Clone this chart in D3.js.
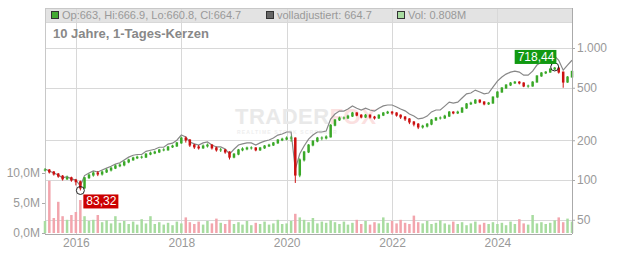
<!DOCTYPE html>
<html>
<head>
<meta charset="utf-8">
<script src="https://cdn.jsdelivr.net/npm/d3@7"></script>
<style>
  body { margin: 0; background: #fff; }
  svg text { font-family: "Liberation Sans", Arial, sans-serif; }
</style>
</head>
<body>
<svg width="632" height="253"></svg>
<script>
// monthly candles from Jun 2015 to Jun 2025, open = previous close
const closes = [
  119, 115, 111, 107, 102, 104, 100,
  97, 87, 104, 109, 113, 111, 115, 119, 123, 128, 130, 137,
  142, 147, 149, 149, 157, 160, 163, 169, 169, 178, 181, 191,
  208, 201, 184, 178, 175, 181, 184, 175, 169, 169, 163, 149,
  157, 169, 172, 175, 175, 169, 175, 181, 184, 191, 201, 204,
  208, 208, 109, 142, 163, 184, 197, 208, 208, 212, 260, 285,
  295, 295, 305, 322, 310, 300, 310, 300, 295, 310, 322, 327,
  322, 310, 300, 290, 275, 265, 252, 256, 265, 285, 295, 295,
  305, 327, 322, 327, 351, 377, 383, 403, 390, 377, 383, 425,
  464, 498, 524, 543, 552, 543, 515, 515, 552, 614, 647, 657,
  693, 705, 657, 552, 603, 665
];
const highs = [
  123, 121, 117, 113, 109, 108, 106,
  102, 99, 105, 112, 116, 117, 118, 122, 126, 131, 134, 140,
  145, 150, 153, 153, 160, 164, 167, 172, 174, 181, 185, 194,
  213, 214, 204, 188, 184, 186, 189, 187, 179, 175, 172, 165,
  160, 172, 177, 179, 180, 177, 178, 184, 188, 194, 204, 209,
  214, 216, 210, 146, 166, 187, 200, 212, 214, 218, 265, 290,
  302, 303, 312, 328, 326, 315, 316, 314, 306, 314, 327, 334,
  333, 326, 314, 305, 294, 280, 270, 262, 270, 290, 300, 303,
  312, 333, 332, 335, 356, 383, 392, 410, 408, 395, 390, 430,
  470, 505, 532, 552, 562, 560, 550, 528, 560, 622, 656, 668,
  702, 718.44, 712, 662, 612, 672
];
const lows = [
  116, 112, 108, 104, 99, 100, 97,
  91, 83.32, 86, 102, 106, 107, 108, 113, 116, 121, 125, 127,
  134, 140, 144, 145, 147, 154, 157, 160, 165, 167, 175, 178,
  188, 192, 178, 172, 170, 172, 176, 170, 164, 163, 158, 143,
  146, 154, 165, 168, 170, 165, 166, 172, 178, 181, 188, 197,
  200, 195, 95, 105, 138, 160, 180, 193, 200, 203, 210, 255,
  280, 287, 290, 300, 304, 293, 295, 292, 287, 290, 305, 316,
  312, 302, 290, 280, 265, 255, 243, 245, 250, 260, 280, 287,
  290, 300, 315, 316, 322, 346, 370, 378, 382, 368, 370, 378,
  420, 458, 490, 515, 535, 530, 505, 500, 510, 548, 605, 635,
  650, 680, 640, 500, 545, 598
];
// volladjustiert line
const adjusted = [
  121, 117, 113, 109, 104, 106, 102,
  100, 90, 108, 113, 117, 115, 119, 123, 127, 132, 135, 142,
  149, 154, 156, 156, 165, 168, 171, 177, 177, 187, 190, 200,
  219, 212, 194, 188, 184, 191, 194, 184, 178, 178, 172, 157,
  171, 184, 188, 191, 191, 184, 191, 197, 201, 208, 219, 223,
  231, 231, 121, 158, 181, 204, 219, 231, 231, 235, 289, 316,
  333, 333, 345, 364, 350, 339, 350, 339, 333, 350, 364, 370,
  370, 357, 345, 334, 316, 305, 290, 294, 305, 328, 339, 339,
  363, 389, 383, 389, 418, 449, 456, 480, 464, 449, 456, 506,
  561, 603, 634, 657, 668, 657, 623, 623, 668, 743, 783, 795,
  852, 867, 808, 679, 742, 808
];
// volume in millions
const volumes = [
  2.0, 8.7, 2.5, 5.2, 2.8, 2.2, 3.0,
  3.5, 5.5, 2.8, 2.0, 2.2, 3.0, 1.8, 2.1, 1.6, 2.8, 1.7, 2.0,
  1.5, 1.9, 1.4, 2.3, 1.6, 2.8, 1.5, 1.8, 1.4, 1.7, 1.3, 1.9,
  1.6, 2.6, 1.8, 1.5, 1.9, 1.4, 2.0, 1.6, 2.4, 1.7, 1.5, 2.2,
  1.5, 1.8, 1.4, 2.0, 1.3, 1.7, 1.5, 1.9, 1.4, 1.6, 2.2, 1.5,
  1.6, 2.0, 3.2, 2.6, 2.2, 1.8, 2.5, 1.6, 1.9, 1.7, 2.1, 1.8,
  1.5, 1.9, 1.4, 1.7, 2.2, 1.5, 2.0, 1.4, 1.8, 1.6, 2.6, 1.7,
  2.0, 1.6, 2.2, 1.7, 1.5, 2.9, 1.8, 1.6, 2.0, 1.5, 1.7, 2.1,
  1.6, 1.4, 1.9, 1.5, 1.8, 1.3, 1.6, 1.9, 1.4, 1.7, 1.5, 1.8,
  1.5, 1.7, 1.3, 1.9, 1.5, 2.3, 1.6, 1.4, 3.0, 1.6, 1.8, 1.5,
  1.7, 2.1, 2.6, 1.8, 2.4, 1.9
];
const priceTicks = [50, 100, 200, 500, 1000];
const volTicks = [0, 5, 10];
const yearTicks = [2016, 2018, 2020, 2022, 2024];
const lowMark = { date: new Date(2016, 1, 1), value: 83.32, label: "83,32" };
const highMark = { date: new Date(2025, 1, 1), value: 718.44, label: "718,44" };
const headerItems = [
  { text: "Op:663, Hi:666.9, Lo:660.8, Cl:664.7", color: "#44aa33", x: 51 },
  { text: "volladjustiert: 664.7", color: "#666", x: 266 },
  { text: "Vol: 0.808M", color: "#a8dca0", x: 397 }
];

const dates = closes.map((d, i) => new Date(2015, 5 + i, 1));
const opens = closes.map((d, i) => i ? closes[i - 1] : d);

const L = 45, R = 572, T = 8, B = 234;
const svg = d3.select("svg");

const x = d3.scaleTime().domain([new Date(2015, 5, 1), new Date(2025, 5, 1)]).range([L, R]);
const y = d3.scaleLog().domain([100, 1000]).range([180, 48]);
const yv = d3.scaleLinear().domain([0, 10]).range([233, 173]);

// header band
svg.append("rect").attr("x", L).attr("y", T).attr("width", R - L).attr("height", 14).attr("fill", "#e3e3e3");

// grid
svg.append("g").selectAll("line").data(yearTicks).join("line")
  .attr("x1", d => Math.round(x(new Date(d, 0, 1))) + 0.5)
  .attr("x2", d => Math.round(x(new Date(d, 0, 1))) + 0.5)
  .attr("y1", T).attr("y2", B).attr("stroke", "#d8d8d8");
svg.append("g").selectAll("line").data(priceTicks).join("line")
  .attr("x1", L).attr("x2", R)
  .attr("y1", d => Math.round(y(d)) + 0.5).attr("y2", d => Math.round(y(d)) + 0.5)
  .attr("stroke", "#d8d8d8");
svg.append("line").attr("x1", L).attr("x2", R).attr("y1", 22.5).attr("y2", 22.5).attr("stroke", "#d8d8d8");

// frame
svg.append("line").attr("x1", L + 0.5).attr("x2", L + 0.5).attr("y1", T).attr("y2", B).attr("stroke", "#c8c8c8");
svg.append("line").attr("x1", L).attr("x2", R).attr("y1", T + 0.5).attr("y2", T + 0.5).attr("stroke", "#c8c8c8");

// watermark
const wm = svg.append("text").attr("x", 235).attr("y", 124)
  .attr("font-size", 22).attr("font-weight", "bold").attr("letter-spacing", 0.5);
wm.append("tspan").attr("fill", "#e9e9e9").text("TRADER");
wm.append("tspan").attr("fill", "#fbe0e0").text("FOX");
svg.append("text").attr("x", 237).attr("y", 134)
  .attr("font-size", 5).attr("font-weight", "bold").attr("fill", "#eeeeee").attr("letter-spacing", 1.2)
  .text("REALTIME STOCK SCREENER");

// volume bars
svg.append("g").selectAll("rect").data(volumes).join("rect")
  .attr("x", (d, i) => x(dates[i]) - 1.25)
  .attr("width", 2.5)
  .attr("y", d => yv(d))
  .attr("height", d => yv(0) - yv(d))
  .attr("fill", (d, i) => closes[i] >= opens[i] ? "#a8dca0" : "#f2a5ad");

// adjusted line
svg.append("path").datum(adjusted)
  .attr("fill", "none").attr("stroke", "#888").attr("stroke-width", 1.2)
  .attr("d", d3.line().x((d, i) => x(dates[i])).y(d => y(d)));

// candles
const candleColor = i => closes[i] >= opens[i] ? "#3aa828" : "#cc1111";
const candles = svg.append("g");
candles.selectAll("line").data(closes).join("line")
  .attr("x1", (d, i) => x(dates[i])).attr("x2", (d, i) => x(dates[i]))
  .attr("y1", (d, i) => y(highs[i])).attr("y2", (d, i) => y(lows[i]))
  .attr("stroke", (d, i) => candleColor(i)).attr("stroke-width", 1);
candles.selectAll("rect").data(closes).join("rect")
  .attr("x", (d, i) => x(dates[i]) - 1.25)
  .attr("width", 2.5)
  .attr("y", (d, i) => Math.min(y(d), y(opens[i])) - 0.5)
  .attr("height", (d, i) => Math.abs(y(d) - y(opens[i])) + 1)
  .attr("fill", (d, i) => candleColor(i));

// right axis (log price)
svg.append("g").attr("transform", `translate(${R},0)`)
  .call(d3.axisRight(y).tickValues(priceTicks).tickSize(3).tickPadding(2)
    .tickFormat(d => d >= 1000 ? d3.format(",")(d).replace(",", ".") : d))
  .call(g => g.select(".domain").attr("d", `M0.5,${T}V${B}`).attr("stroke", "#aaa"))
  .call(g => g.selectAll(".tick line").attr("stroke", "#aaa"))
  .call(g => g.selectAll(".tick text").attr("fill", "#999").attr("font-size", 12).attr("font-family", "Liberation Sans, Arial, sans-serif"));

// left axis (volume)
svg.append("g").attr("transform", `translate(${L},0)`)
  .call(d3.axisLeft(yv).tickValues(volTicks).tickSize(3).tickPadding(2)
    .tickFormat(d => d3.format(".1f")(d).replace(".", ",") + "M"))
  .call(g => g.select(".domain").remove())
  .call(g => g.selectAll(".tick line").attr("stroke", "#aaa"))
  .call(g => g.selectAll(".tick text").attr("fill", "#999").attr("font-size", 12).attr("font-family", "Liberation Sans, Arial, sans-serif"));

// bottom axis
svg.append("g").attr("transform", `translate(0,${B})`)
  .call(d3.axisBottom(x).tickValues(yearTicks.map(d => new Date(d, 0, 1))).tickSize(0).tickPadding(4)
    .tickFormat(d3.timeFormat("%Y")))
  .call(g => g.select(".domain").attr("d", `M${L},0.5H${R}`).attr("stroke", "#aaa"))
  .call(g => g.selectAll(".tick text").attr("fill", "#999").attr("font-size", 12).attr("font-family", "Liberation Sans, Arial, sans-serif"));

// markers
[lowMark, highMark].forEach(m => {
  svg.append("circle").attr("cx", x(m.date)).attr("cy", y(m.value)).attr("r", 4)
    .attr("fill", "none").attr("stroke", "#222").attr("stroke-width", 1);
});
function tag(m, bx, by, fill) {
  const t = svg.append("text").attr("x", bx + 3).attr("y", by + 11).attr("font-size", 12)
    .attr("fill", "#fff").text(m.label);
  const w = t.node().getComputedTextLength();
  svg.insert("rect", () => t.node()).attr("x", bx).attr("y", by).attr("width", w + 5).attr("height", 14).attr("fill", fill);
}
tag(lowMark, x(lowMark.date) + 3, y(lowMark.value) + 4, "#cc0000");
tag(highMark, x(highMark.date) - 40, y(highMark.value) - 17, "#119911");

// header items
headerItems.forEach(h => {
  svg.append("rect").attr("x", h.x + 0.5).attr("y", 11.5).attr("width", 7).attr("height", 7)
    .attr("fill", h.color).attr("stroke", "#333");
  svg.append("text").attr("x", h.x + 11).attr("y", 19).attr("font-size", 11).attr("fill", "#999").text(h.text);
});

// title
svg.append("text").attr("x", 53).attr("y", 38).attr("font-size", 13).attr("font-weight", "bold")
  .attr("fill", "#888").text("10 Jahre, 1-Tages-Kerzen");
</script>
</body>
</html>
